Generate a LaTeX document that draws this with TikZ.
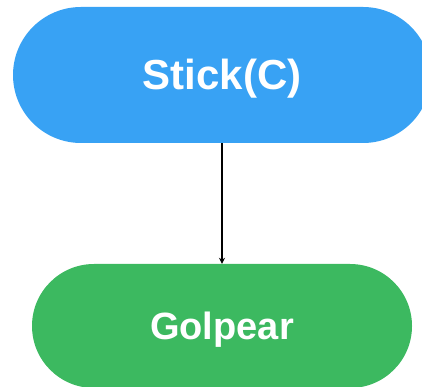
\documentclass[tikz,border=0pt]{standalone}
\usepackage{fontspec}
\setmainfont{Liberation Sans}
\usetikzlibrary{arrows.meta}
\definecolor{cblue}{HTML}{38A2F4}
\definecolor{cgreen}{HTML}{3CB960}
\tikzset{
  pill/.style={inner sep=0pt, text=white, text depth=0pt},
  link/.style={draw=black, line width=1.1pt, -{Stealth[length=6pt,width=6pt]}}
}
\begin{document}
\begin{tikzpicture}[x=1pt,y=1pt]
\useasboundingbox (0,0) rectangle (422,387);
\node[pill, fill=cblue, rounded corners=68pt, minimum width=418pt, minimum height=136pt, text height=30pt, font=\bfseries\fontsize{42}{46}\selectfont] (stick) at (222,312) {Stick(C)};
\node[pill, fill=cgreen, rounded corners=62pt, minimum width=380pt, minimum height=124pt, text height=27pt, font=\bfseries\fontsize{38}{42}\selectfont] (golpear) at (222,61) {Golpear};
\draw[link] (stick) -- (golpear);
\end{tikzpicture}
\end{document}
